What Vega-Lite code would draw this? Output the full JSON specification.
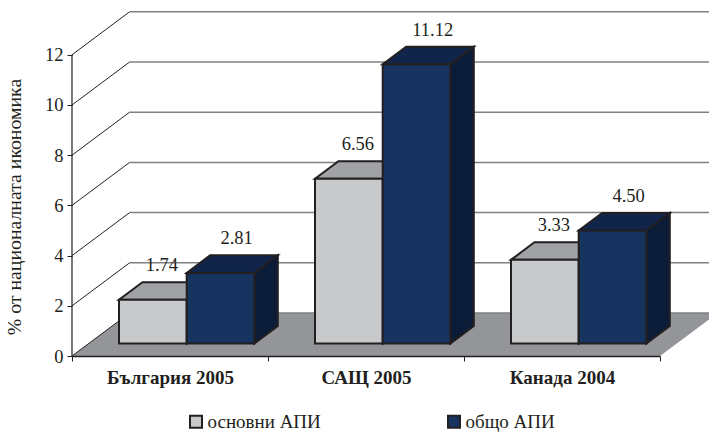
{
"$schema":"https://vega.github.io/schema/vega-lite/v6.json",
"autosize":"none","width":637,"height":344,
"padding":{"left":72,"top":12,"right":0,"bottom":76},
"background":"white",
"config":{"font":"Liberation Serif","view":{"stroke":null}},
"datasets":{
"bars":[
{"group":"България 2005","series":"основни АПИ","value":1.74},
{"group":"България 2005","series":"общо АПИ","value":2.81},
{"group":"САЩ 2005","series":"основни АПИ","value":6.56},
{"group":"САЩ 2005","series":"общо АПИ","value":11.12},
{"group":"Канада 2004","series":"основни АПИ","value":3.33},
{"group":"Канада 2004","series":"общо АПИ","value":4.50}],
"grid":[{"v":0},{"v":2},{"v":4},{"v":6},{"v":8},{"v":10},{"v":12}],
"floor":[{"t":0},{"t":1}]
},
"resolve":{"scale":{"x":"independent"},"axis":{"y":"independent"}},
"layer":[
{"data":{"name":"floor"},
 "transform":[{"calculate":"datum.t*0.294","as":"xa"},{"calculate":"3+datum.t*0.294","as":"xb"},{"calculate":"datum.t*1.713","as":"yy"}],
 "mark":{"type":"area","orient":"horizontal","fill":"#939598","clip":true},
 "encoding":{"x":{"field":"xa","type":"quantitative","scale":{"domain":[0,3.25]},"axis":null},"x2":{"field":"xb"},
 "y":{"field":"yy","type":"quantitative","scale":{"domain":[0,13.705],"nice":false},
 "axis":{"values":[0,2,4,6,8,10,12],"title":"% от националната икономика","titleFontSize":19.8,"titleFontWeight":"normal","titleColor":"#231f20","labelFontSize":18.5,"labelColor":"#231f20","tickColor":"#231f20","tickSize":5,"labelPadding":4,"domain":false,"grid":false,"titleX":-48,"titleY":194.5,"zindex":1}}}},
{"data":{"name":"grid"},
 "transform":[{"calculate":"0.294","as":"xa"},{"calculate":"3.25","as":"xb"},{"calculate":"datum.v+1.713","as":"yy"}],
 "mark":{"type":"rule","stroke":"#7f8083","strokeWidth":1.5},
 "encoding":{"x":{"field":"xa","type":"quantitative","scale":{"domain":[0,3.25]},"axis":null},"x2":{"field":"xb"},
 "y":{"field":"yy","type":"quantitative","scale":{"domain":[0,13.705],"nice":false},"axis":null}}},
{"data":{"name":"grid"},
 "transform":[{"calculate":"0","as":"xa"},{"calculate":"0.294","as":"xb"},{"calculate":"datum.v+1.713","as":"yy"}],
 "mark":{"type":"rule","stroke":"#231f20","strokeWidth":1},
 "encoding":{"x":{"field":"xa","type":"quantitative","scale":{"domain":[0,3.25]},"axis":null},"x2":{"field":"xb"},
 "y":{"field":"v","type":"quantitative","scale":{"domain":[0,13.705],"nice":false},"axis":null},"y2":{"field":"yy"}}},
{"data":{"name":"grid"},
 "transform":[{"filter":"datum.v==12"},{"calculate":"0","as":"xa"},{"calculate":"0","as":"yb"}],
 "mark":{"type":"rule","stroke":"#231f20","strokeWidth":1.2},
 "encoding":{"x":{"field":"xa","type":"quantitative","scale":{"domain":[0,3.25]},"axis":null},
 "y":{"field":"yb","type":"quantitative","scale":{"domain":[0,13.705],"nice":false},"axis":null},"y2":{"field":"v"}}},
{"data":{"name":"bars"},
 "mark":{"type":"bar","opacity":0},
 "encoding":{"x":{"field":"group","type":"nominal","sort":["България 2005","САЩ 2005","Канада 2004"],
 "scale":{"type":"band","range":[0,588],"paddingInner":0,"paddingOuter":0},
 "axis":{"title":null,"labelAngle":0,"labelFontSize":19,"labelFontWeight":"bold","labelColor":"#231f20","tickColor":"#231f20","domainColor":"#231f20","domainWidth":1.4,"tickBand":"extent","tickSize":5,"labelPadding":7,"zindex":1}},
 "y":{"field":"value","type":"quantitative","scale":{"domain":[0,13.705],"nice":false},"axis":null}}},
{"data":{"name":"bars"},
 "transform":[
 {"calculate":"indexof(['България 2005','САЩ 2005','Канада 2004'],datum.group)","as":"i"},
 {"calculate":"datum.series==='общо АПИ'?1:0","as":"s"},
 {"calculate":"datum.i+0.2398+datum.s*0.3454","as":"x0"},
 {"calculate":"datum.x0+0.3454","as":"x1"},
 {"calculate":"0.5","as":"b"},
 {"calculate":"datum.value+0.5","as":"top"}],
 "layer":[
 {"transform":[{"calculate":"[0,1]","as":"t"},{"flatten":["t"]},
   {"calculate":"datum.x1+datum.t*0.1194","as":"xs"},
   {"calculate":"datum.b+datum.t*0.7","as":"sb"},
   {"calculate":"datum.top+datum.t*0.7","as":"st"},
   {"calculate":"datum.group+datum.series","as":"key"}],
  "mark":{"type":"area","stroke":"#231f20","strokeWidth":2,"strokeJoin":"miter"},
  "encoding":{"x":{"field":"xs","type":"quantitative","scale":{"domain":[0,3.25]},"axis":null},
   "y":{"field":"st","type":"quantitative","scale":{"domain":[0,13.705],"nice":false},"axis":null},"y2":{"field":"sb"},
   "detail":{"field":"key"},
   "fill":{"condition":{"test":"datum.s==1","value":"#0b1c38"},"value":"#9a9b9e"}}},
 {"transform":[{"calculate":"[0,1]","as":"t"},{"flatten":["t"]},
   {"calculate":"datum.x0+datum.t*0.1194","as":"xa"},
   {"calculate":"datum.x1+datum.t*0.1194","as":"xb"},
   {"calculate":"datum.top+datum.t*0.7","as":"yy"},
   {"calculate":"datum.group+datum.series","as":"key"}],
  "mark":{"type":"area","orient":"horizontal","stroke":"#231f20","strokeWidth":2,"strokeJoin":"miter"},
  "encoding":{"x":{"field":"xa","type":"quantitative","scale":{"domain":[0,3.25]},"axis":null},"x2":{"field":"xb"},
   "y":{"field":"yy","type":"quantitative","scale":{"domain":[0,13.705],"nice":false},"axis":null},
   "detail":{"field":"key"},
   "fill":{"condition":{"test":"datum.s==1","value":"#11254b"},"value":"#a1a2a5"}}},
 {"mark":{"type":"rect","stroke":"#231f20","strokeWidth":2},
  "encoding":{"x":{"field":"x0","type":"quantitative","scale":{"domain":[0,3.25]},"axis":null},"x2":{"field":"x1"},
   "y":{"field":"top","type":"quantitative","scale":{"domain":[0,13.705],"nice":false},"axis":null},"y2":{"field":"b"},
   "fill":{"field":"series","type":"nominal","sort":["основни АПИ","общо АПИ"],
    "scale":{"domain":["основни АПИ","общо АПИ"],"range":["#c8c9cb","#17335f"]},
    "legend":{"title":null,"orient":"none","legendX":114.5,"legendY":400,"columns":2,"columnPadding":122,"symbolType":"square","symbolSize":144,"symbolStrokeColor":"#231f20","symbolStrokeWidth":2,"symbolOpacity":1,"labelFontSize":19,"labelColor":"#231f20","labelOffset":2}}}},
 {"transform":[
   {"calculate":"datum.x0+(datum.s==1?0.255:0.219)","as":"lx"},
   {"calculate":"datum.top+0.7+0.44","as":"ly"}],
  "mark":{"type":"text","fontSize":18.5,"color":"#231f20","baseline":"alphabetic","align":"center"},
  "encoding":{"x":{"field":"lx","type":"quantitative","scale":{"domain":[0,3.25]},"axis":null},
   "y":{"field":"ly","type":"quantitative","scale":{"domain":[0,13.705],"nice":false},"axis":null},
   "text":{"field":"value","type":"quantitative","format":".2f"}}}
 ]}
]
}
